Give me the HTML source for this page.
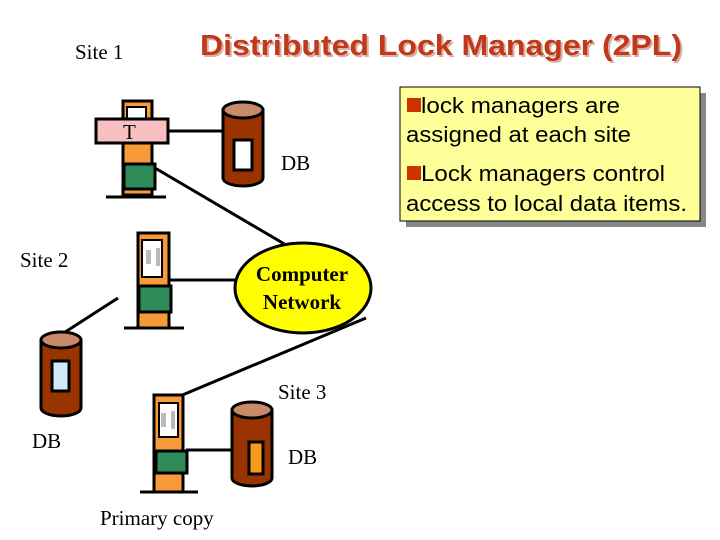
<!DOCTYPE html>
<html><head><style>
html,body{margin:0;padding:0;background:#fff;}
svg{display:block;}
.t{font-family:"Liberation Serif",serif;font-size:21px;fill:#000;}
.a{font-family:"Liberation Sans",sans-serif;font-size:22px;fill:#000;}
</style></head><body>
<svg width="720" height="540" viewBox="0 0 720 540" xmlns="http://www.w3.org/2000/svg">
<defs>
<g id="cyl">
 <path d="M0,10 L0,78 A20,8 0 0 0 40,78 L40,10 Z" fill="#993300" stroke="#000" stroke-width="3"/>
 <ellipse cx="20" cy="10" rx="20" ry="8" fill="#c98a6a" stroke="#000" stroke-width="3"/>
</g>
</defs>
<g stroke="#000" stroke-width="3" fill="none">
 <line x1="160" y1="131" x2="223" y2="131"/>
 <line x1="155" y1="168" x2="298" y2="252"/>
 <line x1="169" y1="280" x2="236" y2="280"/>
 <line x1="45" y1="345" x2="118" y2="298"/>
 <line x1="180" y1="396" x2="366" y2="318"/>
 <line x1="186" y1="450" x2="233" y2="450"/>
</g>
<text x="202" y="57" font-family="Liberation Sans,sans-serif" font-weight="bold" font-size="29" fill="#d8b0a8" textLength="482" lengthAdjust="spacingAndGlyphs">Distributed Lock Manager (2PL)</text>
<text x="200" y="55" font-family="Liberation Sans,sans-serif" font-weight="bold" font-size="29" fill="#c0391a" textLength="482" lengthAdjust="spacingAndGlyphs">Distributed Lock Manager (2PL)</text>
<text class="t" x="75" y="59">Site 1</text>
<rect x="123" y="101" width="29" height="94" fill="#f79a3a" stroke="#000" stroke-width="3"/>
<rect x="127" y="107" width="19" height="14" fill="#fff" stroke="#000" stroke-width="2"/>
<rect x="96" y="119" width="72" height="24" fill="#f8c0c0" stroke="#000" stroke-width="3"/>
<text class="t" x="123" y="139">T</text>
<rect x="124" y="164" width="31" height="25" fill="#2e8b57" stroke="#000" stroke-width="3"/>
<line x1="106" y1="197" x2="166" y2="197" stroke="#000" stroke-width="3"/>
<use href="#cyl" x="223" y="100"/>
<rect x="234" y="140" width="18" height="30" fill="#fff" stroke="#000" stroke-width="3"/>
<text class="t" x="281" y="170">DB</text>
<text class="t" x="20" y="267">Site 2</text>
<rect x="138" y="233" width="31" height="95" fill="#f79a3a" stroke="#000" stroke-width="3"/>
<rect x="142" y="240" width="20" height="37" fill="#fff" stroke="#000" stroke-width="2"/>
<rect x="146" y="250" width="5" height="14" fill="#bbb"/><rect x="156" y="248" width="4" height="18" fill="#bbb"/>
<rect x="139" y="286" width="32" height="26" fill="#2e8b57" stroke="#000" stroke-width="3"/>
<line x1="124" y1="328" x2="184" y2="328" stroke="#000" stroke-width="3"/>
<ellipse cx="303" cy="288" rx="68" ry="45" fill="#ffff00" stroke="#000" stroke-width="3"/>
<text x="302" y="281" text-anchor="middle" font-family="Liberation Serif,serif" font-weight="bold" font-size="21">Computer</text>
<text x="302" y="309" text-anchor="middle" font-family="Liberation Serif,serif" font-weight="bold" font-size="21">Network</text>
<use href="#cyl" x="41" y="330"/>
<rect x="52" y="361" width="17" height="30" fill="#d0e8f8" stroke="#000" stroke-width="3"/>
<text class="t" x="32" y="448">DB</text>
<text class="t" x="278" y="399">Site 3</text>
<rect x="154" y="395" width="29" height="97" fill="#f79a3a" stroke="#000" stroke-width="3"/>
<rect x="159" y="403" width="19" height="34" fill="#fff" stroke="#000" stroke-width="2"/>
<rect x="161" y="413" width="5" height="14" fill="#bbb"/><rect x="171" y="411" width="4" height="18" fill="#bbb"/>
<rect x="156" y="451" width="31" height="22" fill="#2e8b57" stroke="#000" stroke-width="3"/>
<line x1="140" y1="492" x2="198" y2="492" stroke="#000" stroke-width="3"/>
<use href="#cyl" x="232" y="400"/>
<rect x="249" y="442" width="14" height="32" fill="#f79a1a" stroke="#000" stroke-width="3"/>
<text class="t" x="288" y="464">DB</text>
<text class="t" x="100" y="525">Primary copy</text>
<rect x="406" y="93" width="300" height="134" fill="#888"/>
<rect x="400" y="87" width="300" height="134" fill="#ffff99" stroke="#000" stroke-width="1"/>
<rect x="407" y="98" width="14" height="14" fill="#cc3300"/>
<text class="a" x="421" y="113" textLength="199" lengthAdjust="spacingAndGlyphs">lock managers are</text>
<text class="a" x="406" y="142" textLength="225" lengthAdjust="spacingAndGlyphs">assigned at each site</text>
<rect x="407" y="166" width="14" height="14" fill="#cc3300"/>
<text class="a" x="421" y="181" textLength="244" lengthAdjust="spacingAndGlyphs">Lock managers control</text>
<text class="a" x="406" y="211" textLength="281" lengthAdjust="spacingAndGlyphs">access to local data items.</text>
</svg>
</body></html>
